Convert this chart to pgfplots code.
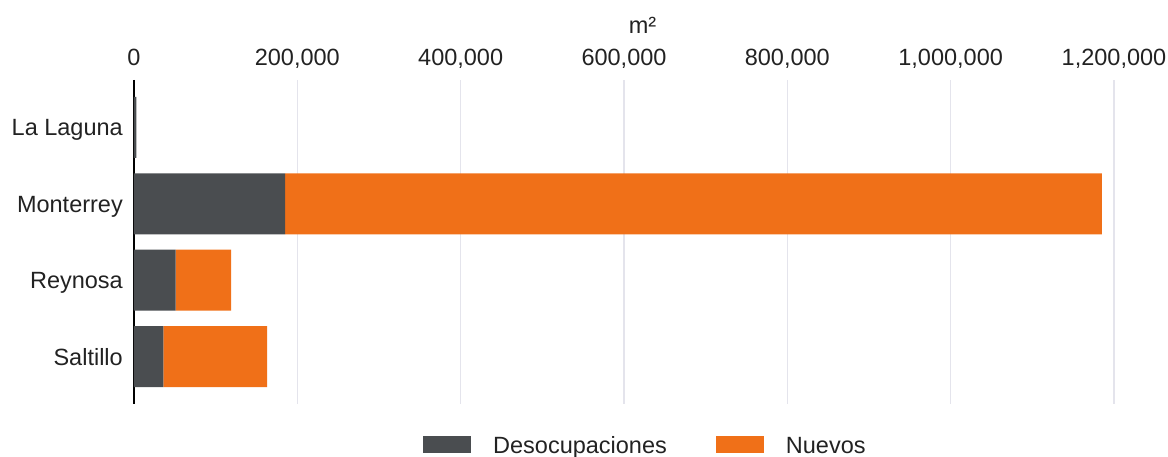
\documentclass[border=0pt]{standalone}
\usepackage{fontspec}
\setmainfont{Liberation Sans}
\usepackage{pgfplots}
\pgfplotsset{compat=1.18}

\definecolor{desoc}{HTML}{4A4D50}
\definecolor{nuevo}{HTML}{F07018}
\definecolor{gridc}{HTML}{E4E4EC}
\definecolor{txt}{HTML}{222222}

\newcommand{\chartfont}{\fontsize{23.5pt}{28pt}\selectfont}

\begin{document}
\begin{tikzpicture}
\useasboundingbox (-134pt,-53pt) rectangle (1034pt,404pt);
\begin{axis}[
  scale only axis,
  width=980pt, height=324pt,
  clip=false,
  xbar stacked, bar width=61pt,
  xmin=0, xmax=1200000,
  ymin=-0.62, ymax=3.62, y dir=reverse,
  ytick={0,1,2,3},
  yticklabels={La Laguna,Monterrey,Reynosa,Saltillo},
  xtick={0,200000,400000,600000,800000,1000000,1200000},
  scaled x ticks=false,
  xticklabel pos=upper,
  separate axis lines,
  axis x line*=top, axis y line*=left,
  x axis line style={draw=none},
  y axis line style={-, black, line width=1.6pt},
  major tick length=0pt,
  xmajorgrids,
  major grid style={gridc, line width=1.2pt},
  /pgf/number format/.cd, fixed, 1000 sep={,}, assume math mode=true,
  /pgfplots/.cd,
  tick label style={font=\chartfont, text=txt},
  xticklabel style={anchor=base, inner sep=0pt, yshift=14.6pt},
  yticklabel style={anchor=east, inner sep=0pt, xshift=-11pt,
                    text height=16.8pt, text depth=0pt},
  legend columns=-1,
  legend style={at={(rel axis cs:0.2918,-0.1265)}, anchor=west,
                draw=none, fill=none,
                font=\chartfont, text=txt,
                nodes={inner sep=0pt, text height=16.8pt, text depth=0pt},
                /tikz/every odd column/.append style={column sep=22pt},
                /tikz/every even column/.append style={column sep=49pt}},
  legend image code/.code={\fill[#1, draw=none] (0pt,-8.5pt) rectangle (48pt,8.5pt);},
]
% Desocupaciones
\addplot[fill=desoc, draw=none] coordinates {
  (3000,0) (185000,1) (51000,2) (36000,3)
};
% Nuevos
\addplot[fill=nuevo, draw=none] coordinates {
  (0,0) (1000000,1) (68000,2) (127000,3)
};
\legend{Desocupaciones, Nuevos}
% unit label above the value axis
\node[font=\chartfont, text=txt, anchor=base, inner sep=0pt]
  at (rel axis cs:0.519,1) [yshift=46.7pt] {m²};
\end{axis}
\end{tikzpicture}
\end{document}
